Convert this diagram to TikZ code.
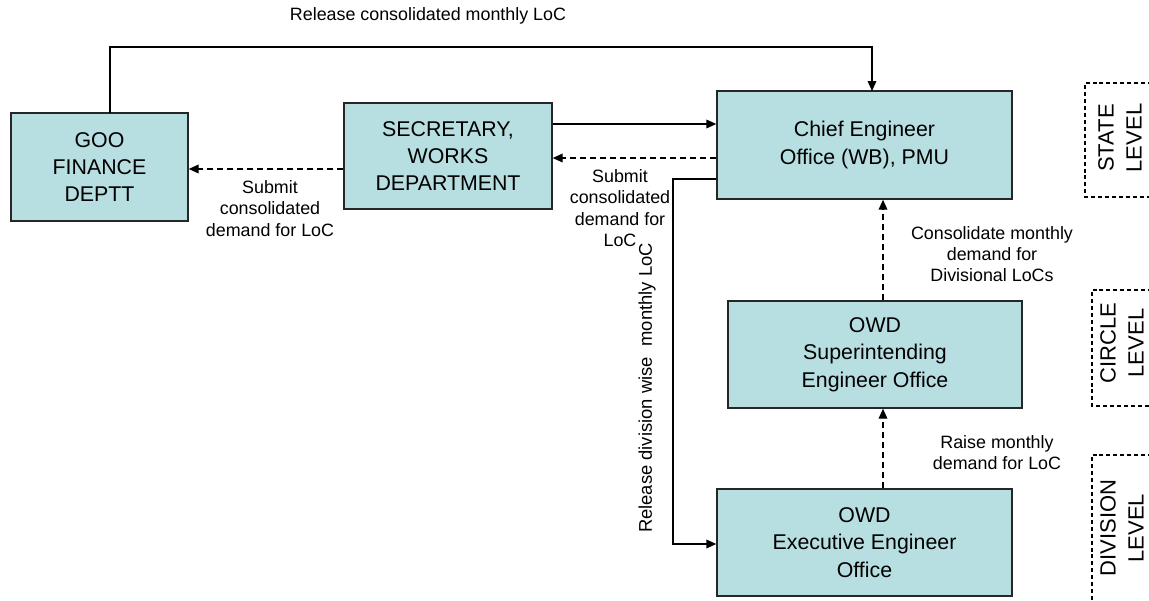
\documentclass[tikz,border=0pt]{standalone}
\usepackage{fontspec}
\setmainfont{Liberation Sans}
\usetikzlibrary{arrows.meta}
\definecolor{boxfill}{RGB}{183,222,225}
\tikzset{
  box/.style={draw=black!85, line width=1pt, fill=boxfill, rectangle, align=center,
    font=\fontsize{16}{20.5}\selectfont, inner sep=0pt},
  lbl/.style={align=center, font=\fontsize{13.4}{16}\selectfont, inner sep=0pt},
  lvl/.style={align=center, rotate=90, font=\fontsize{16.5}{21}\selectfont, inner sep=0pt},
  conn/.style={line width=1pt, -{Triangle[length=7.5pt,width=6.5pt]}},
  dconn/.style={conn, dash pattern=on 4.5pt off 3pt},
  lvlbox/.style={line width=0.8pt, dash pattern=on 3pt off 2.2pt}
}
\begin{document}
\begin{tikzpicture}[x=0.75pt,y=-0.75pt]
\useasboundingbox (0,0) rectangle (1149,600);

% boxes
\node[box, minimum width=177*0.75pt, minimum height=108*0.75pt] (goo) at (99.5,167) {GOO\\FINANCE\\DEPTT};
\node[box, minimum width=208*0.75pt, minimum height=106*0.75pt] (sec) at (448,156) {SECRETARY,\\WORKS\\DEPARTMENT};
\node[box, minimum width=295*0.75pt, minimum height=108*0.75pt] (chief) at (864.5,145) {Chief Engineer\\Office (WB), PMU};
\node[box, minimum width=294*0.75pt, minimum height=107*0.75pt] (super) at (875,354.5) {OWD\\Superintending\\Engineer Office};
\node[box, minimum width=295*0.75pt, minimum height=107*0.75pt] (exec) at (864.5,542.5) {OWD\\Executive Engineer\\Office};

% connectors
\coordinate (gootop) at (110,113);
\coordinate (chieftop) at (872,91);
\draw[conn] (gootop) -- (110,47) -| (chieftop);
\draw[conn] (sec.east |- 0,124) -- (chief.west |- 0,124);
\draw[dconn] (chief.west |- 0,158) -- (sec.east |- 0,158);
\draw[dconn] (sec.west |- 0,169) -- (goo.east |- 0,169);
\draw[conn] (chief.west |- 0,179) -- (673,179) |- (exec.west |- 0,544);
\draw[dconn] (super.north -| 883,0) -- (chief.south -| 883,0);
\draw[dconn] (exec.north -| 883,0) -- (super.south -| 883,0);

% labels
\node[lbl] (l1) at (428,16) {Release consolidated monthly LoC};
\node[lbl] (l2) at (270,208.5) {Submit\\consolidated\\demand for LoC};
\node[lbl] (l3) at (620,208) {Submit\\consolidated\\demand for\\LoC};
\node[lbl, rotate=90, font=\fontsize{13.8}{16}\selectfont] (l4) at (647,388) {Release division wise\hspace{8pt}monthly LoC};
\node[lbl] (l5) at (992,254) {Consolidate monthly\\demand for\\Divisional LoCs};
\node[lbl] (l6) at (997,452.5) {Raise monthly\\demand for LoC};

% level boxes
\draw[lvlbox] (1152,83) -- (1085,83) -- (1085,197) -- (1152,197);
\draw[lvlbox] (1152,290) -- (1092,290) -- (1092,406) -- (1152,406);
\draw[lvlbox] (1152,455) -- (1092,455) -- (1092,605);
\node[lvl] (state) at (1120,138) {STATE\\LEVEL};
\node[lvl] (circle) at (1122,343) {CIRCLE\\LEVEL};
\node[lvl] (division) at (1122,528) {DIVISION\\LEVEL};
\end{tikzpicture}
\end{document}
